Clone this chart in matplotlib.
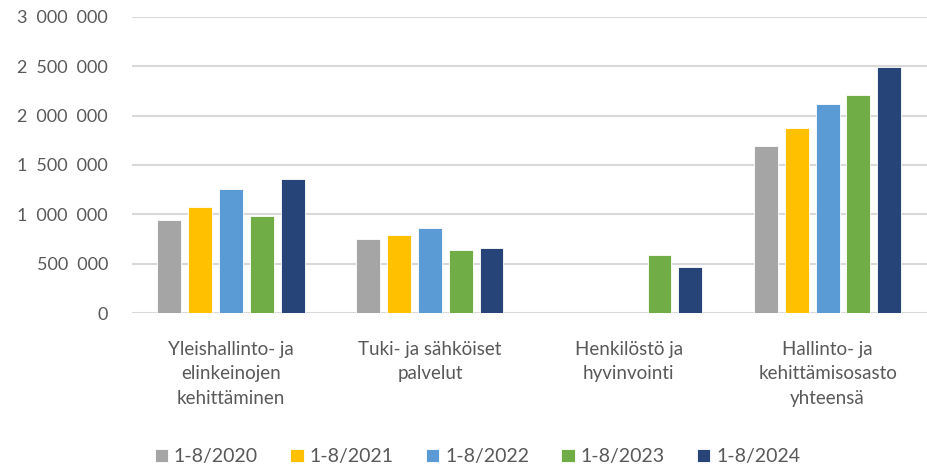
import matplotlib.pyplot as plt
import numpy as np

categories = ["Yleishallinto- ja\nelinkeinojen\nkehittäminen",
              "Tuki- ja sähköiset\npalvelut",
              "Henkilöstö ja\nhyvinvointi",
              "Hallinto- ja\nkehittämisosasto\nyhteensä"]
series = ["1-8/2020", "1-8/2021", "1-8/2022", "1-8/2023", "1-8/2024"]
v2020 = [945000, 750000, 0, 1695000]
v2021 = [1075000, 790000, 0, 1875000]
v2022 = [1255000, 865000, 0, 2120000]
v2023 = [985000, 635000, 583000, 2212000]
v2024 = [1360000, 657000, 466000, 2490000]
colors = ["#a5a5a5", "#ffc000", "#5b9bd5", "#70ad47", "#264478"]

plt.rcParams['font.family'] = ['Lato', 'DejaVu Sans']
text_color = "#595959"

fig = plt.figure(figsize=(9.27, 4.70), dpi=100)
ax = fig.add_axes([0.142, 0.334, 0.858, 0.630])

x = np.arange(len(categories))
width = 0.12
pitch = 0.155
for i, (name, vals) in enumerate(zip(series, [v2020, v2021, v2022, v2023, v2024])):
    ax.bar(x + (i - 2) * pitch, vals, width, color=colors[i], label=name,
           edgecolor="white", linewidth=0.6, zorder=3)

ax.set_xlim(-0.5, 3.5)
ax.set_ylim(0, 3000000)
ax.set_yticks(range(0, 3000001, 500000))
ax.set_yticklabels([f"{v:,}".replace(",", "\u2002") for v in range(0, 3000001, 500000)])
ax.yaxis.grid(True, color="#d9d9d9", linewidth=1.5, zorder=0)
ax.set_xticks(x)
ax.set_xticklabels(categories, linespacing=1.55)
for s in ax.spines.values():
    s.set_visible(False)
ax.tick_params(axis="x", length=0, labelsize=13.5, colors=text_color, pad=20)
ax.tick_params(axis="y", length=0, labelsize=13, colors=text_color, pad=17)

fig.legend(loc="center", bbox_to_anchor=(0.515, 0.028),
           ncol=5, frameon=False, fontsize=14, handlelength=0.7, handleheight=0.7,
           handletextpad=0.3, columnspacing=1.65, labelcolor=text_color)

fig.savefig("out.png", dpi=100)
